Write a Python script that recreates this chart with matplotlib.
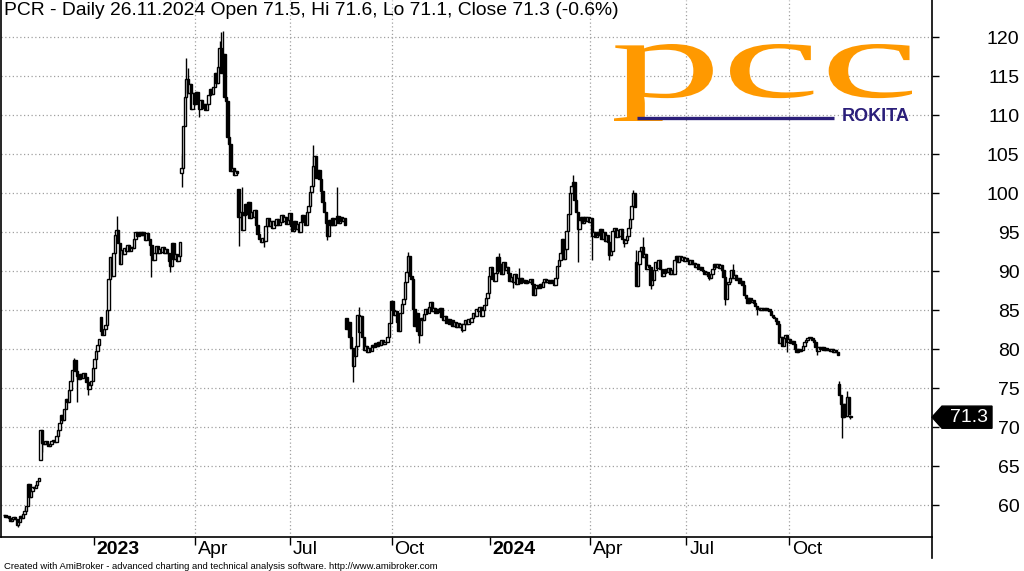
import numpy as np
import matplotlib.pyplot as plt
from matplotlib.patches import Polygon, PathPatch
from matplotlib.lines import Line2D
from matplotlib.textpath import TextPath
from matplotlib.font_manager import FontProperties
from matplotlib.transforms import Affine2D, blended_transform_factory, offset_copy

plt.rcParams['font.family'] = ['Liberation Sans', 'DejaVu Sans']

# Daily closes, one list per quarter
q4_2022 = [58.7, 58.5, 58.6, 58.4, 58.0, 58.3, 58.5, 58.2, 57.5, 57.8,
           58.6, 58.4, 58.9, 59.3, 59.9, 62.7, 61.1, 61.9, 62.3, 62.2,
           62.6, 63.1, 63.5, 69.6, 68.0, 67.8, 68.2, 67.9, 67.6, 67.9,
           68.2, 68.4, 68.1, 68.9, 69.6, 70.5, 71.6, 70.9, 72.4, 73.6,
           73.2, 74.8, 75.9, 77.4, 78.6, 77.2, 76.6, 76.2, 76.8, 76.3,
           76.9, 76.5, 75.8, 74.9, 75.4, 75.9, 77.6]
q1_2023 = [78.7, 79.8, 80.6, 81.3, 82.3, 81.8, 82.6, 83.1, 85.1, 89.0,
           91.8, 89.4, 92.4, 94.6, 95.3, 93.6, 91.0, 92.7, 92.2, 93.0,
           92.6, 93.4, 92.6, 93.1, 93.0, 94.1, 95.1, 94.5, 95.0, 94.7,
           95.1, 94.7, 94.0, 94.9, 94.2, 93.4, 92.1, 91.4, 92.4, 93.2,
           92.3, 92.9, 92.5, 93.1, 92.4, 92.8, 92.3, 91.3, 90.7, 93.6,
           91.6, 92.2, 91.3, 92.0, 93.7, 103.2, 108.6, 112.4, 114.7, 112.8,
           114.0, 110.8, 112.9, 111.4]
q2_2023 = [113.0, 111.6, 110.8, 111.9, 110.9, 111.5, 110.7, 111.4, 112.6, 113.4,
           112.7, 113.6, 115.4, 114.1, 116.2, 118.6, 115.4, 117.9, 112.3, 111.8,
           107.2, 106.3, 102.8, 103.3, 102.4, 102.8, 102.6, 96.9, 97.6, 95.3,
           97.2, 98.6, 97.4, 98.9, 96.8, 97.6, 96.9, 97.8, 95.9, 94.8,
           94.1, 93.7, 94.3, 93.9, 95.8, 96.8, 95.8, 96.4, 95.6, 96.5,
           96.0, 96.7, 95.9, 96.3, 97.2, 96.4, 97.0, 96.1, 96.6, 97.5]
q3_2023 = [95.8, 95.2, 96.4, 95.4, 96.1, 95.0, 96.3, 97.2, 96.4, 96.0,
           97.6, 98.4, 100.2, 101.0, 103.5, 104.8, 101.9, 103.0, 101.8, 100.3,
           98.9, 97.6, 96.2, 94.5, 96.6, 95.9, 96.8, 96.0, 96.7, 97.1,
           96.2, 96.9, 96.4, 96.8, 96.0, 82.6, 83.5, 81.6, 80.2, 77.8,
           79.1, 80.4, 84.4, 82.2, 84.3, 81.6, 79.9, 80.4, 79.7, 80.2,
           79.8, 80.6, 80.3, 80.8, 80.4, 81.0, 80.6, 81.2, 80.7, 80.9,
           81.0, 81.6, 83.4, 86.2]
q4_2023 = [85.0, 84.4, 84.9, 83.5, 82.4, 84.6, 85.8, 86.4, 88.6, 89.9,
           92.0, 89.4, 89.0, 85.2, 83.0, 84.6, 82.4, 81.8, 84.0, 83.8,
           84.5, 85.2, 84.7, 85.4, 86.1, 84.9, 85.3, 84.6, 85.2, 84.8,
           85.3, 84.2, 83.8, 84.3, 83.4, 83.9, 83.2, 83.7, 83.0, 83.5,
           82.9, 83.4, 82.8, 83.2, 82.5, 83.3, 83.8, 83.3, 83.9, 83.5,
           84.0, 84.6, 84.3, 85.2, 84.9, 85.4, 84.3, 85.0, 85.7, 86.6,
           87.2, 89.4]
q1_2024 = [90.6, 89.0, 88.7, 89.8, 91.8, 90.1, 91.0, 89.6, 91.2, 90.2,
           90.6, 89.8, 88.7, 89.3, 88.6, 89.6, 88.4, 89.1, 88.5, 89.2,
           88.6, 88.9, 88.5, 88.8, 88.6, 89.0, 88.4, 86.9, 87.8, 88.3,
           87.9, 88.4, 88.0, 88.6, 89.0, 88.6, 88.9, 88.5, 88.9, 88.6,
           88.2, 89.1, 90.7, 91.5, 92.3, 94.1, 91.6, 92.8, 95.2, 97.4,
           100.0, 101.0, 101.4, 99.2, 97.6, 95.4, 96.6, 97.0, 96.2, 97.0,
           96.4, 96.9, 96.3]
q2_2024 = [96.8, 94.5, 95.0, 94.4, 95.0, 94.6, 95.4, 94.2, 95.0, 93.9,
           94.6, 93.8, 92.1, 92.6, 95.2, 95.6, 94.4, 95.3, 94.5, 95.4,
           94.2, 93.6, 94.0, 94.5, 95.6, 96.7, 98.4, 100.0, 98.3, 88.1,
           90.9, 92.6, 93.1, 91.8, 92.2, 90.3, 90.8, 90.6, 88.2, 88.9,
           90.2, 91.2, 90.4, 91.5, 90.3, 89.4, 89.8, 90.3, 89.9, 90.4,
           89.7, 90.2, 89.7, 91.4, 91.9, 91.2, 92.0, 91.4, 91.8, 91.3,
           91.7]
q3_2024 = [91.5, 90.9, 91.4, 90.9, 91.1, 90.5, 90.9, 90.3, 90.6, 90.2,
           90.0, 89.6, 89.9, 89.4, 89.2, 89.6, 90.3, 90.9, 90.5, 91.0,
           90.4, 90.8, 90.2, 89.3, 86.4, 88.4, 88.6, 89.1, 90.2, 89.2,
           89.5, 88.9, 89.1, 88.5, 88.8, 88.3, 87.0, 86.6, 86.0, 86.6,
           86.1, 86.3, 85.9, 85.6, 85.2, 85.3, 85.0, 85.3, 85.1, 85.3,
           85.0, 85.2, 84.9, 84.4, 84.1, 84.0, 83.6, 83.3, 80.8, 81.6,
           80.4, 81.4, 81.8, 81.0, 81.3]
q4_2024 = [80.8, 81.1, 80.7, 80.0, 79.7, 80.1, 79.8, 79.9, 80.4, 80.9,
           81.2, 81.5, 81.6, 81.4, 81.2, 80.9, 80.3, 79.8, 80.3, 80.0,
           80.3, 79.9, 80.2, 79.9, 80.1, 79.8, 80.0, 79.7, 79.9, 79.6,
           79.3, 74.2, 73.0, 71.3, 73.0, 71.5, 73.9, 71.7, 71.3]

quarters = [q4_2022, q1_2023, q2_2023, q3_2023, q4_2023,
            q1_2024, q2_2024, q3_2024, q4_2024]
tick_labels = ['2023', 'Apr', 'Jul', 'Oct', '2024', 'Apr', 'Jul', 'Oct']

# opens that gapped away from the previous close
gap_opens = {0: 58.8, 23: 65.8, 61: 84.2, 112: 102.6, 148: 100.5,
             216: 84.0, 399: 91.2, 527: 75.6, 534: 71.5}
# visible long wicks
wick_hi = {13: 59.6, 44: 78.9, 71: 97.1, 112: 104.9, 115: 117.4, 116: 116.0,
           136: 119.5, 137: 120.7, 138: 120.8, 150: 100.8, 195: 106.2,
           210: 100.8, 224: 85.4, 255: 92.5, 312: 92.3, 325: 90.4,
           359: 102.4, 397: 100.4, 399: 92.7, 403: 94.4, 460: 90.9,
           527: 76.0, 532: 74.6, 534: 71.6}
wick_lo = {9: 57.2, 24: 66.8, 46: 73.3, 53: 74.2, 93: 89.3, 105: 89.9,
           112: 100.8, 123: 109.8, 148: 93.2, 164: 93.1, 204: 94.0,
           220: 75.8, 262: 80.8, 289: 82.2, 321: 87.8, 362: 91.2,
           371: 91.4, 382: 91.4, 391: 93.1, 408: 87.7, 445: 88.9,
           455: 85.7, 475: 84.4, 494: 79.7, 513: 79.3, 529: 68.6, 534: 71.1}

title = 'PCR - Daily 26.11.2024 Open 71.5, Hi 71.6, Lo 71.1, Close 71.3 (-0.6%)'
last_close = 71.3

closes = np.array(sum(quarters, []))
n = len(closes)
x = np.arange(n)
opens = np.r_[closes[0], closes[:-1]]
for i, v in gap_opens.items():
    opens[i] = v
highs = np.maximum(opens, closes)
lows = np.minimum(opens, closes)
for i, v in wick_hi.items():
    highs[i] = v
for i, v in wick_lo.items():
    lows[i] = v

starts = np.cumsum([len(q) for q in quarters])[:-1]
tick_pos = starts - 0.5

W, H = 1024, 571
fig = plt.figure(figsize=(W / 100, H / 100), dpi=100)
ax = fig.add_axes([1 / W, 34 / H, 931 / W, 537 / H])

up = closes >= opens
ax.vlines(x, lows, highs, color='black', lw=1.0, zorder=2)
ax.bar(x, np.abs(closes - opens), bottom=np.minimum(opens, closes),
       width=1.5, color=np.where(up, 'white', 'black'), edgecolor='black',
       linewidth=1.0, zorder=3)

ax.set_xlim(-1.9, 585.5)
ax.set_ylim(55.94, 124.78)

ax.spines['top'].set_visible(False)
for s in ('left', 'right', 'bottom'):
    ax.spines[s].set_linewidth(1.2)

ax.yaxis.tick_right()
ax.set_yticks(range(60, 121, 5))
ax.tick_params(axis='y', direction='out', length=5, width=1, pad=58,
               labelsize=14)
for lab in ax.get_yticklabels():
    lab.set_horizontalalignment('right')
ax.grid(axis='y', color='#a0a0a0', linestyle=(0, (1, 2)), linewidth=0.9)

ax.set_xticks(tick_pos)
ax.set_xticklabels([])
ax.tick_params(axis='x', direction='out', length=6, width=1)
tr = offset_copy(blended_transform_factory(ax.transData, ax.transAxes),
                 fig=fig, x=3, y=-4, units='dots')
for p, lab in zip(tick_pos, tick_labels):
    year = lab.isdigit()
    if not year:
        ax.axvline(p, color='#a0a0a0', linestyle=(0, (1, 2)), lw=0.9, zorder=1)
    ax.text(p, 0, lab, transform=tr, ha='left', va='top', fontsize=14,
            fontweight='bold' if year else 'normal', clip_on=False)

# right border runs down through the date band
fig.add_artist(Line2D([932 / W, 932 / W], [1 - 537 / H, 1 - 558 / H],
                      color='black', lw=1.2))

# title and footer
fig.text(4 / W, 1 - 2 / H, title, ha='left', va='top', fontsize=13.9)
fig.text(4 / W, 1 - 569 / H,
         'Created with AmiBroker - advanced charting and technical analysis '
         'software. http://www.amibroker.com',
         ha='left', va='baseline', fontsize=6.8)

# last price tag
bt = blended_transform_factory(fig.transFigure, ax.transData)
tag = Polygon([(932 / W, last_close), (942 / W, last_close + 1.42),
               (992 / W, last_close + 1.42), (992 / W, last_close - 1.42),
               (942 / W, last_close - 1.42)],
              closed=True, facecolor='black', edgecolor='black',
              transform=bt, clip_on=False)
fig.add_artist(tag)
fig.text(988 / W, last_close, f'{last_close}', transform=bt, ha='right',
         va='center', color='white', fontsize=14)

# PCC Rokita logo
orange = '#ff9900'
navy = '#2b1f7a'
tp = TextPath((0, 0), 'pcc', size=100,
              prop=FontProperties(family='Liberation Serif'))
bb = tp.get_extents()
x0, x1 = 614 / W, 912 / W
ytop, ybot = 1 - 44 / H, 1 - 121 / H
logo_tr = (Affine2D().translate(-bb.x0, -bb.y0)
           .scale((x1 - x0) / bb.width, (ytop - ybot) / bb.height)
           .translate(x0, ybot) + fig.transFigure)
fig.add_artist(PathPatch(tp, transform=logo_tr, facecolor=orange,
                         edgecolor='none'))
fig.add_artist(Line2D([637 / W, 834 / W], [1 - 118 / H, 1 - 118 / H],
                      color=navy, lw=2.4, solid_capstyle='butt'))
fig.text(842 / W, 1 - 121 / H, 'ROKITA', ha='left', va='baseline',
         fontsize=13, fontweight='bold', color=navy)

fig.savefig('out.png', dpi=100)
